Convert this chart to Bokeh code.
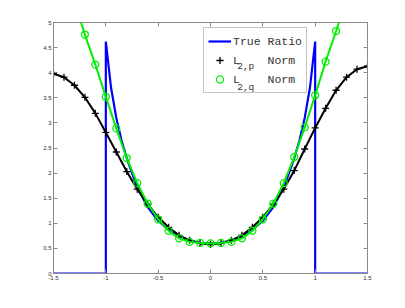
from bokeh.plotting import figure
from bokeh.models import FixedTicker, LinearAxis, Legend, LegendItem, Label, Range1d
from bokeh.embed import file_html
from bokeh.resources import INLINE

# True ratio curve (blue)
true_x = [-1.5, -1.0, -1.0, -0.95, -0.9, -0.85, -0.8, -0.75, -0.7, -0.6, -0.5, -0.4, -0.3, -0.2, -0.1, 0.0,
          0.1, 0.2, 0.3, 0.4, 0.5, 0.6, 0.7, 0.75, 0.8, 0.85, 0.9, 0.95, 1.0, 1.0, 1.5]
true_y = [0.0, 0.0, 4.62, 3.70, 3.10, 2.65, 2.30, 2.00, 1.72, 1.32, 1.05, 0.87, 0.74, 0.66, 0.61, 0.60,
          0.61, 0.66, 0.74, 0.87, 1.05, 1.32, 1.72, 2.00, 2.30, 2.65, 3.10, 3.70, 4.62, 0.0, 0.0]

# L2,p norm (black, + markers)
p_x = [-1.5, -1.4, -1.3, -1.2, -1.1, -1.0, -0.9, -0.8, -0.7, -0.6, -0.5, -0.4, -0.3, -0.2, -0.1, 0.0,
       0.1, 0.2, 0.3, 0.4, 0.5, 0.6, 0.7, 0.8, 0.9, 1.0, 1.1, 1.2, 1.3, 1.4, 1.5]
p_y = [3.98, 3.91, 3.75, 3.51, 3.19, 2.81, 2.42, 2.03, 1.68, 1.38, 1.12, 0.92, 0.76, 0.66, 0.60, 0.58,
       0.60, 0.66, 0.76, 0.92, 1.12, 1.38, 1.68, 2.05, 2.48, 2.90, 3.29, 3.65, 3.91, 4.07, 4.13]

# L2,q norm (green, o markers)
q_x = [-1.3, -1.2, -1.1, -1.0, -0.9, -0.8, -0.7, -0.6, -0.5, -0.4, -0.3, -0.2, -0.1, 0.0,
       0.1, 0.2, 0.3, 0.4, 0.5, 0.6, 0.7, 0.8, 0.9, 1.0, 1.1, 1.2, 1.3]
q_y = [5.40, 4.76, 4.16, 3.52, 2.89, 2.30, 1.80, 1.39, 1.08, 0.85, 0.70, 0.63, 0.61, 0.60,
       0.61, 0.63, 0.70, 0.85, 1.08, 1.39, 1.80, 2.32, 2.91, 3.55, 4.22, 4.83, 5.45]

x_ticks = [-1.5, -1.0, -0.5, 0.0, 0.5, 1.0, 1.5]
x_tick_labels = ["-1.5", "-1", "-0.5", "0", "0.5", "1", "1.5"]
y_ticks = [0, 0.5, 1, 1.5, 2, 2.5, 3, 3.5, 4, 4.5, 5]
y_tick_labels = ["0", "0.5", "1", "1.5", "2", "2.5", "3", "3.5", "4", "4.5", "5"]

GRAY = "#8a8a8a"

p = figure(width=400, height=300, x_range=Range1d(-1.5, 1.5), y_range=Range1d(0, 5),
           output_backend="svg", toolbar_location=None,
           min_border_left=53, min_border_right=33, min_border_top=22, min_border_bottom=27)
p.grid.visible = False
p.outline_line_color = GRAY
p.outline_line_width = 1

def style_axis(ax, labels, show_labels=True):
    ax.major_tick_in = 4
    ax.major_tick_out = 0
    ax.minor_tick_line_color = None
    ax.axis_line_color = GRAY
    ax.major_tick_line_color = GRAY
    ax.major_label_text_font = "Liberation Sans"
    ax.major_label_text_font_size = "6px"
    ax.major_label_standoff = 2
    if show_labels:
        ax.major_label_text_color = "#333333"
        ax.major_label_overrides = labels
    else:
        ax.major_label_text_color = None

p.xaxis[0].ticker = FixedTicker(ticks=x_ticks)
p.yaxis[0].ticker = FixedTicker(ticks=y_ticks)
style_axis(p.xaxis[0], dict(zip(x_ticks, x_tick_labels)))
style_axis(p.yaxis[0], dict(zip(y_ticks, y_tick_labels)))

top = LinearAxis(ticker=FixedTicker(ticks=x_ticks))
style_axis(top, {}, show_labels=False)
right = LinearAxis(ticker=FixedTicker(ticks=y_ticks))
style_axis(right, {}, show_labels=False)
p.add_layout(top, "above")
p.add_layout(right, "right")

rb = p.line(true_x, true_y, line_color="#0000ff", line_width=2.2, line_join="miter")
lk = p.line(p_x, p_y, line_color="black", line_width=2)
sk = p.scatter(p_x, p_y, marker="cross", size=7, line_color="black", line_width=1.3)
lg = p.line(q_x, q_y, line_color="#00ee00", line_width=2)
sg = p.scatter(q_x, q_y, marker="circle", size=7, fill_color=None, line_color="#00ee00", line_width=1.3)

nb = "\u00a0"
legend = Legend(items=[
    LegendItem(label="True Ratio", renderers=[rb]),
    LegendItem(label="L" + nb * 4 + "Norm", renderers=[sk]),
    LegendItem(label="L" + nb * 4 + "Norm", renderers=[sg]),
], location=(150, 180))
legend.border_line_color = GRAY
legend.border_line_width = 1
legend.background_fill_color = "white"
legend.background_fill_alpha = 0
legend.label_text_font = "Liberation Mono"
legend.label_text_font_size = "11.5px"
legend.label_text_color = "#333333"
legend.glyph_width = 23
legend.glyph_height = 18
legend.label_height = 18
legend.spacing = 1
legend.padding = 4
legend.margin = 0
legend.label_standoff = 2
p.add_layout(legend)

for txt, yy in [("2,p", 4.13), ("2,q", 3.71)]:
    p.add_layout(Label(x=0.255, y=yy, x_units="data", y_units="data", text=txt,
                       text_font="Liberation Mono", text_font_size="9.5px", level="overlay",
                       text_color="#333333", text_baseline="middle", text_align="left"))

open("out.html", "w").write(file_html(p, INLINE))
